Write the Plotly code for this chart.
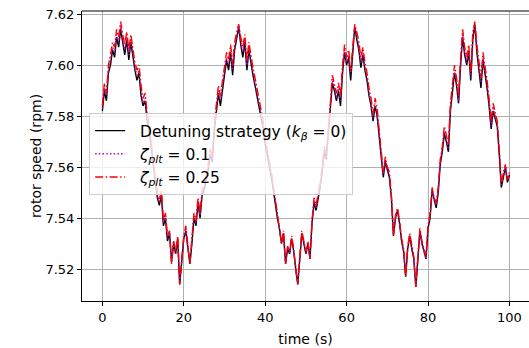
import numpy as np
import plotly.graph_objects as go

# sample times (s), 0.5 s spacing
time_s = np.arange(0, 100.5, 0.5)

# rotor speed (rpm), detuning strategy with k_beta = 0
speed_detuning = [
    7.582, 7.590, 7.586, 7.597, 7.600, 7.606, 7.603, 7.611, 7.607, 7.614,
    7.609, 7.604, 7.610, 7.602, 7.609, 7.603, 7.598, 7.594, 7.597, 7.588,
    7.584, 7.586, 7.578, 7.574, 7.567, 7.560, 7.554, 7.548, 7.545, 7.549,
    7.537, 7.540, 7.531, 7.534, 7.523, 7.530, 7.526, 7.532, 7.514, 7.522,
    7.532, 7.535, 7.528, 7.522, 7.530, 7.540, 7.537, 7.546, 7.540, 7.549,
    7.551, 7.555, 7.559, 7.565, 7.562, 7.574, 7.582, 7.589, 7.584, 7.591,
    7.596, 7.602, 7.598, 7.605, 7.596, 7.606, 7.610, 7.615, 7.608, 7.603,
    7.609, 7.598, 7.606, 7.600, 7.596, 7.592, 7.588, 7.584, 7.580, 7.575,
    7.569, 7.565, 7.560, 7.556, 7.551, 7.545, 7.540, 7.536, 7.530, 7.534,
    7.522, 7.528, 7.526, 7.532, 7.527, 7.520, 7.514, 7.524, 7.534, 7.530,
    7.526, 7.530, 7.524, 7.538, 7.546, 7.543, 7.547, 7.552, 7.558, 7.566,
    7.563, 7.574, 7.582, 7.593, 7.590, 7.586, 7.590, 7.584, 7.597, 7.605,
    7.600, 7.603, 7.594, 7.606, 7.615, 7.610, 7.606, 7.599, 7.604, 7.598,
    7.594, 7.588, 7.584, 7.578, 7.584, 7.580, 7.572, 7.566, 7.556, 7.562,
    7.559, 7.556, 7.548, 7.533, 7.540, 7.543, 7.538, 7.531, 7.527, 7.517,
    7.528, 7.533, 7.528, 7.524, 7.513, 7.526, 7.535, 7.530, 7.527, 7.524,
    7.536, 7.540, 7.551, 7.547, 7.544, 7.550, 7.561, 7.566, 7.573, 7.570,
    7.566, 7.582, 7.590, 7.597, 7.592, 7.585, 7.600, 7.611, 7.604, 7.600,
    7.605, 7.594, 7.610, 7.616, 7.605, 7.598, 7.591, 7.602, 7.597, 7.591,
    7.584, 7.575, 7.582, 7.579, 7.576, 7.565, 7.552, 7.556, 7.560, 7.554,
    7.557,
]

# rotor speed (rpm), zeta_plt = 0.1
speed_zeta_01 = [
    7.583, 7.591, 7.588, 7.598, 7.602, 7.607, 7.605, 7.612, 7.609, 7.615,
    7.610, 7.606, 7.611, 7.604, 7.610, 7.605, 7.599, 7.596, 7.598, 7.590,
    7.585, 7.587, 7.579, 7.575, 7.568, 7.561, 7.555, 7.549, 7.546, 7.550,
    7.538, 7.541, 7.532, 7.534, 7.523, 7.531, 7.526, 7.532, 7.515, 7.523,
    7.532, 7.536, 7.528, 7.523, 7.531, 7.541, 7.538, 7.547, 7.541, 7.550,
    7.552, 7.556, 7.560, 7.566, 7.563, 7.575, 7.583, 7.590, 7.586, 7.592,
    7.597, 7.603, 7.600, 7.606, 7.598, 7.607, 7.611, 7.615, 7.609, 7.605,
    7.610, 7.600, 7.607, 7.601, 7.597, 7.593, 7.589, 7.585, 7.581, 7.576,
    7.570, 7.566, 7.561, 7.557, 7.552, 7.546, 7.541, 7.536, 7.531, 7.534,
    7.523, 7.528, 7.526, 7.532, 7.527, 7.521, 7.515, 7.524, 7.534, 7.531,
    7.526, 7.530, 7.525, 7.538, 7.547, 7.544, 7.548, 7.553, 7.559, 7.567,
    7.564, 7.575, 7.583, 7.594, 7.591, 7.587, 7.591, 7.586, 7.598, 7.606,
    7.601, 7.604, 7.596, 7.607, 7.615, 7.611, 7.607, 7.601, 7.605, 7.599,
    7.595, 7.589, 7.585, 7.579, 7.585, 7.581, 7.573, 7.567, 7.557, 7.563,
    7.559, 7.557, 7.548, 7.534, 7.540, 7.543, 7.538, 7.531, 7.527, 7.518,
    7.528, 7.533, 7.528, 7.524, 7.514, 7.526, 7.535, 7.530, 7.527, 7.524,
    7.536, 7.541, 7.551, 7.547, 7.545, 7.551, 7.562, 7.567, 7.574, 7.571,
    7.567, 7.583, 7.591, 7.598, 7.593, 7.586, 7.601, 7.612, 7.605, 7.601,
    7.606, 7.595, 7.611, 7.616, 7.606, 7.599, 7.593, 7.603, 7.598, 7.592,
    7.585, 7.576, 7.583, 7.580, 7.577, 7.566, 7.553, 7.557, 7.560, 7.555,
    7.557,
]

# rotor speed (rpm), zeta_plt = 0.25
speed_zeta_025 = [
    7.584, 7.593, 7.589, 7.600, 7.604, 7.609, 7.607, 7.614, 7.611, 7.617,
    7.612, 7.608, 7.613, 7.606, 7.612, 7.607, 7.601, 7.598, 7.600, 7.592,
    7.587, 7.589, 7.581, 7.577, 7.569, 7.562, 7.556, 7.550, 7.547, 7.551,
    7.539, 7.542, 7.533, 7.535, 7.522, 7.531, 7.527, 7.533, 7.514, 7.523,
    7.533, 7.537, 7.529, 7.522, 7.532, 7.542, 7.539, 7.548, 7.542, 7.551,
    7.553, 7.557, 7.561, 7.567, 7.564, 7.577, 7.585, 7.592, 7.588, 7.594,
    7.599, 7.605, 7.602, 7.608, 7.600, 7.609, 7.613, 7.616, 7.611, 7.607,
    7.612, 7.602, 7.609, 7.603, 7.599, 7.595, 7.591, 7.587, 7.583, 7.578,
    7.571, 7.567, 7.562, 7.558, 7.553, 7.547, 7.542, 7.537, 7.530, 7.535,
    7.522, 7.529, 7.527, 7.533, 7.528, 7.520, 7.514, 7.525, 7.535, 7.531,
    7.527, 7.531, 7.524, 7.539, 7.548, 7.545, 7.549, 7.554, 7.560, 7.568,
    7.565, 7.577, 7.585, 7.596, 7.593, 7.589, 7.593, 7.588, 7.600, 7.608,
    7.603, 7.606, 7.598, 7.609, 7.616, 7.613, 7.609, 7.603, 7.607, 7.601,
    7.597, 7.591, 7.587, 7.581, 7.587, 7.583, 7.575, 7.568, 7.558, 7.564,
    7.560, 7.558, 7.549, 7.533, 7.541, 7.544, 7.539, 7.532, 7.528, 7.517,
    7.529, 7.534, 7.529, 7.525, 7.513, 7.527, 7.536, 7.531, 7.528, 7.525,
    7.537, 7.542, 7.552, 7.548, 7.546, 7.552, 7.563, 7.568, 7.576, 7.573,
    7.569, 7.585, 7.593, 7.600, 7.595, 7.588, 7.603, 7.614, 7.607, 7.603,
    7.608, 7.597, 7.613, 7.617, 7.608, 7.601, 7.595, 7.605, 7.600, 7.594,
    7.587, 7.578, 7.585, 7.582, 7.578, 7.567, 7.553, 7.558, 7.561, 7.555,
    7.558,
]

x_ticks = [0, 20, 40, 60, 80, 100]
y_ticks = [7.52, 7.54, 7.56, 7.58, 7.60, 7.62]

FONT = "DejaVu Sans"
PAD = "\u00a0\u00a0"  # small gap between legend sample and its label

fig = go.Figure()
fig.add_trace(go.Scatter(
    x=time_s, y=speed_detuning, mode="lines",
    name=PAD + "Detuning strategy (<i>k</i><sub><i>β</i></sub> = 0)",
    line=dict(color="black", width=1.4),
))
fig.add_trace(go.Scatter(
    x=time_s, y=speed_zeta_01, mode="lines",
    name=PAD + "<i>ζ</i><sub><i>plt</i></sub> = 0.1",
    line=dict(color="#bf00bf", width=1.4, dash="1.5px,2.2px"),
))
fig.add_trace(go.Scatter(
    x=time_s, y=speed_zeta_025, mode="lines",
    name=PAD + "<i>ζ</i><sub><i>plt</i></sub> = 0.25",
    line=dict(color="red", width=1.4, dash="8px,2.5px,1.5px,2.5px"),
))

axis_common = dict(
    showgrid=True, gridcolor="#b0b0b0", gridwidth=1,
    showline=True, linecolor="black", linewidth=1,
    ticks="outside", ticklen=4, tickwidth=1, tickcolor="black",
    zeroline=False,
    tickfont=dict(family=FONT, size=13, color="black"),
)

fig.update_xaxes(
    **axis_common,
    range=[-5, 104.8], tickvals=x_ticks,
    ticktext=[str(v) for v in x_ticks],
    mirror=False,
    title=dict(text="time (s)", font=dict(family=FONT, size=14, color="black"), standoff=10),
)
fig.update_yaxes(
    **axis_common,
    range=[7.5075, 7.6212], tickvals=y_ticks,
    ticktext=[f"{v:.2f}" for v in y_ticks],
    title=dict(text="rotor speed (rpm)", font=dict(family=FONT, size=14, color="black"), standoff=0),
)

# top frame line of the axes box
fig.add_shape(type="line", xref="paper", yref="paper", x0=0, x1=1, y0=1, y1=1,
              line=dict(color="black", width=1))

fig.update_layout(
    width=529, height=348,
    margin=dict(l=82, r=0, t=11, b=47),
    paper_bgcolor="white", plot_bgcolor="white",
    font=dict(family=FONT, size=13, color="black"),
    showlegend=True,
    legend=dict(
        x=0.016, y=0.648, xanchor="left", yanchor="top",
        bgcolor="rgba(255,255,255,0.8)", bordercolor="#cccccc", borderwidth=1,
        font=dict(family=FONT, size=15.5, color="black"),
        itemwidth=30, tracegroupgap=0,
    ),
)

fig.write_html("out.html")
